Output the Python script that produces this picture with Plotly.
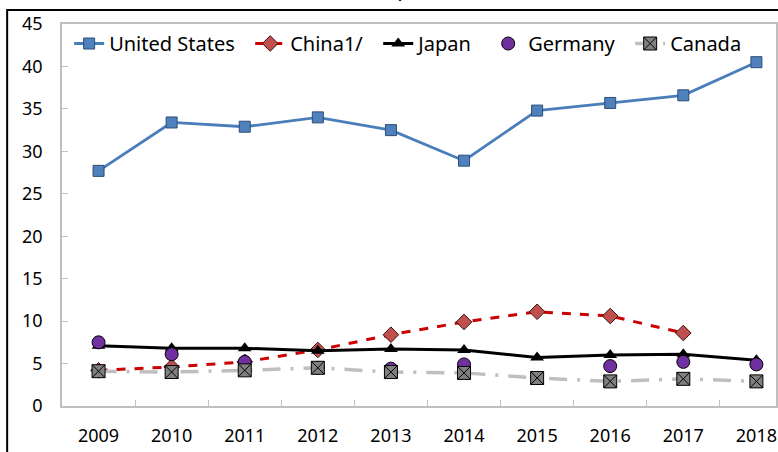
import plotly.graph_objects as go

years = ["2009", "2010", "2011", "2012", "2013", "2014", "2015", "2016", "2017", "2018"]
us = [27.7, 33.4, 32.9, 34.0, 32.5, 28.9, 34.8, 35.7, 36.6, 40.5]
china = [4.2, 4.6, 5.2, 6.6, 8.4, 9.9, 11.1, 10.6, 8.6, None]
japan = [7.1, 6.8, 6.8, 6.5, 6.7, 6.6, 5.7, 6.0, 6.1, 5.4]
germany = [7.5, 6.1, 5.2, 4.5, 4.4, 4.9, None, 4.7, 5.2, 4.9]
canada = [4.1, 4.0, 4.2, 4.5, 4.0, 3.9, 3.3, 2.9, 3.2, 2.9]
y_ticks = [0, 5, 10, 15, 20, 25, 30, 35, 40, 45]

FONT = "Noto Sans"
W, H = 778, 452
L, R, T, B = 62, 0, 24, 46
pw, ph = W - L - R, H - T - B
step = 73.3
PAD = "\u00a0\u00a0"

fig = go.Figure()
fig.add_trace(go.Scatter(x=years, y=us, name="United States" + PAD, mode="lines+markers",
                         line=dict(color="#4A7EBB", width=2.8),
                         marker=dict(symbol="square", size=11, color="#4F81BD",
                                     line=dict(color="#2C4D75", width=1))))
fig.add_trace(go.Scatter(x=years, y=china, name="China1/" + PAD, mode="lines+markers",
                         line=dict(color="#CC0000", width=3, dash="dash"),
                         marker=dict(symbol="diamond", size=12, color="#C0504D",
                                     line=dict(color="#3A1010", width=1))))
fig.add_trace(go.Scatter(x=years, y=japan, name="Japan" + PAD, mode="lines+markers",
                         line=dict(color="#000000", width=3),
                         marker=dict(symbol="triangle-up", size=12, color="#000000")))
fig.add_trace(go.Scatter(x=years, y=germany, name="Germany" + PAD, mode="markers",
                         marker=dict(symbol="circle", size=13, color="#7030A0",
                                     line=dict(color="#000000", width=1))))
fig.add_trace(go.Scatter(x=years, y=canada, name="Canada", mode="lines+markers",
                         line=dict(color="#BFBFBF", width=3.5, dash="18px,10px,3px,10px"),
                         marker=dict(symbol="square-x", size=13, color="#808080",
                                     line=dict(color="#000000", width=1))))

fig.update_layout(
    width=W, height=H,
    margin=dict(l=L, r=R, t=T, b=B),
    paper_bgcolor="white", plot_bgcolor="white",
    font=dict(family=FONT, size=18, color="#000000"),
    showlegend=True,
    legend=dict(orientation="h", x=0.01, y=1.0, xanchor="left", yanchor="top",
                bgcolor="rgba(0,0,0,0)", font=dict(size=20, family=FONT),
                itemwidth=30, tracegroupgap=0),
)
fig.update_xaxes(type="category", range=[-0.5, -0.5 + pw / step],
                 showline=True, linecolor="#BFBFBF", linewidth=1.5, mirror=True,
                 ticks="inside", tickson="boundaries", ticklen=6, tickcolor="#BFBFBF",
                 showgrid=False, tickfont=dict(size=18), ticklabelstandoff=13)
fig.update_yaxes(range=[0, 45], tickvals=y_ticks,
                 showline=True, linecolor="#BFBFBF", linewidth=1.5, mirror=True,
                 ticks="inside", ticklen=6, tickcolor="#BFBFBF",
                 showgrid=False, zeroline=False, tickfont=dict(size=18),
                 ticklabelstandoff=14)

# partly visible chart title, cut at the top edge (as in the reference)
fig.add_annotation(text="(In percent)", xref="paper", yref="paper",
                   x=(425 - L) / pw, y=(H - B - 4) / ph, xanchor="center", yanchor="bottom",
                   showarrow=False, font=dict(size=23, family=FONT))
# outer chart frame
fig.add_shape(type="rect", xref="paper", yref="paper",
              x0=(7 - L) / pw, x1=1.2, y0=-0.5, y1=(H - B - 10) / ph,
              line=dict(color="#000000", width=2), layer="above")

fig.write_html("out.html", config={"displayModeBar": False},
               post_script="document.body.style.margin='0';document.body.style.padding='0';")
